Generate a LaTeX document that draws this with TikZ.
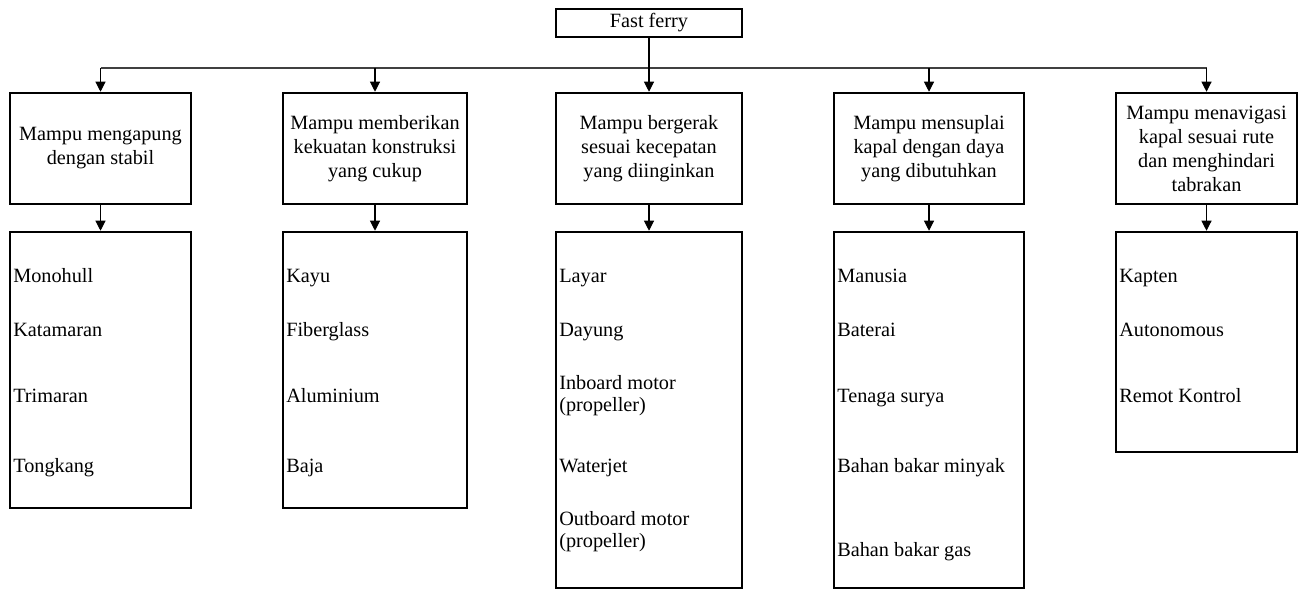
\documentclass[tikz,border=0pt]{standalone}
\usepackage{fontspec}
\setmainfont{Liberation Serif}
\usetikzlibrary{arrows.meta}

\begin{document}
\begin{tikzpicture}[x=0.75pt, y=-0.75pt,
        kotak/.style={draw=black, line width=1.9pt, inner sep=0pt, align=center,
                      font=\fontsize{15.2pt}{18pt}\selectfont},
        isian/.style={anchor=west, inner sep=0pt, align=left,
                      font=\fontsize{15.2pt}{16.5pt}\selectfont,
                      execute at begin node=\strut, execute at end node=\strut},
        panah/.style={draw=black, line width=0.8pt, -{Triangle[length=7.5pt, width=7.5pt]}},
        garis/.style={draw=black!75, line width=0.9pt}]
        \useasboundingbox (0,0) rectangle (1298,592);

        \node[kotak, minimum width=139.5pt, minimum height=21pt] (ferry) at (649,23) {Fast ferry};

        \node[kotak, minimum width=135.75pt, minimum height=83.25pt] (fungsi1) at (100.5,148.5)
            {Mampu mengapung\\dengan stabil};
        \node[kotak, minimum width=138pt, minimum height=83.25pt] (fungsi2) at (375,148.5)
            {Mampu memberikan\\kekuatan konstruksi\\yang cukup};
        \node[kotak, minimum width=139.5pt, minimum height=83.25pt] (fungsi3) at (649,148.5)
            {Mampu bergerak\\sesuai kecepatan\\yang diinginkan};
        \node[kotak, minimum width=142.5pt, minimum height=83.25pt] (fungsi4) at (929,148.5)
            {Mampu mensuplai\\kapal dengan daya\\yang dibutuhkan};
        \node[kotak, minimum width=135.75pt, minimum height=83.25pt] (fungsi5) at (1206.5,148.5)
            {Mampu menavigasi\\kapal sesuai rute\\dan menghindari\\tabrakan};

        \node[kotak, minimum width=135.75pt, minimum height=207pt] (opsi1) at (100.5,370) {};
        \node[kotak, minimum width=138pt, minimum height=207pt] (opsi2) at (375,370) {};
        \node[kotak, minimum width=139.5pt, minimum height=267pt] (opsi3) at (649,410) {};
        \node[kotak, minimum width=142.5pt, minimum height=267pt] (opsi4) at (929,410) {};
        \node[kotak, minimum width=135.75pt, minimum height=165pt] (opsi5) at (1206.5,342) {};

        \node[isian] (monohull) at (13,278) {Monohull};
        \node[isian] (katamaran) at (13,332) {Katamaran};
        \node[isian] (trimaran) at (13,398) {Trimaran};
        \node[isian] (tongkang) at (13,468) {Tongkang};

        \node[isian] (kayu) at (286,278) {Kayu};
        \node[isian] (fiberglass) at (286,332) {Fiberglass};
        \node[isian] (aluminium) at (286,398) {Aluminium};
        \node[isian] (baja) at (286,468) {Baja};

        \node[isian] (layar) at (559,278) {Layar};
        \node[isian] (dayung) at (559,332) {Dayung};
        \node[isian] (inboard) at (559,397) {Inboard motor\\(propeller)};
        \node[isian] (waterjet) at (559,468) {Waterjet};
        \node[isian] (outboard) at (559,533) {Outboard motor\\(propeller)};

        \node[isian] (manusia) at (837,278) {Manusia};
        \node[isian] (baterai) at (837,332) {Baterai};
        \node[isian] (surya) at (837,398) {Tenaga surya};
        \node[isian] (minyak) at (837,468) {Bahan bakar minyak};
        \node[isian] (gas) at (837,552) {Bahan bakar gas};

        \node[isian] (kapten) at (1119,278) {Kapten};
        \node[isian] (otonom) at (1119,332) {Autonomous};
        \node[isian] (remot) at (1119,398) {Remot Kontrol};

        \coordinate (cabang) at (649,68);
        \draw[garis] (fungsi1.north |- cabang) -- (fungsi5.north |- cabang);
        \draw[panah] (ferry) -- (fungsi3);
        \foreach \i in {1,2,4,5}
            \draw[panah] (fungsi\i.north |- cabang) -- (fungsi\i.north);
        \foreach \i in {1,...,5}
            \draw[panah] (fungsi\i) -- (opsi\i);
    \end{tikzpicture}
\end{document}
